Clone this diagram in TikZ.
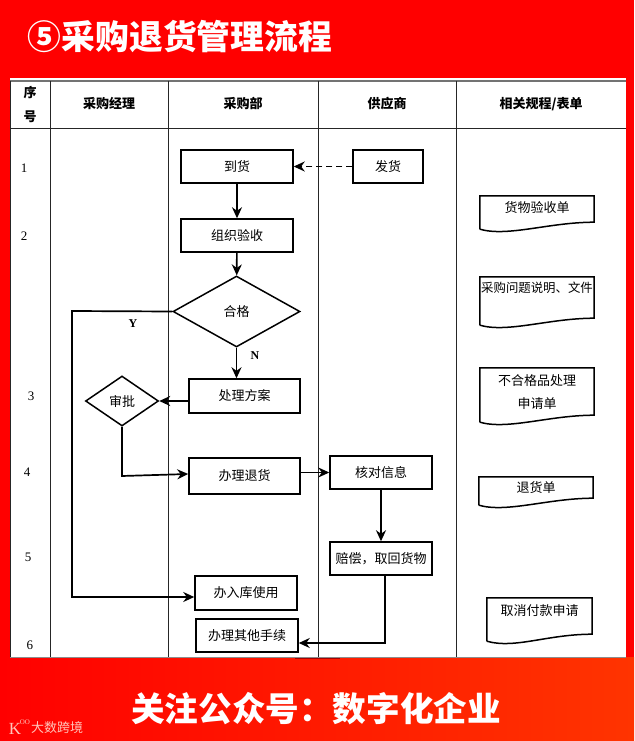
\documentclass[tikz,border=0pt]{standalone}
\usepackage{fontspec}
\usepackage{xcolor}
\setmainfont{Liberation Serif}
\newfontfamily\cjk{Noto Sans CJK SC}
\usetikzlibrary{arrows.meta, calc, shapes.geometric}
\definecolor{banner}{RGB}{255,0,0}
\definecolor{bannerend}{RGB}{255,52,0}
\definecolor{markfaint}{RGB}{255,196,186}
\tikzset{
  flowbox/.style={draw, line width=1.5pt, fill=white, inner sep=0pt, font=\cjk\fontsize{13}{15}\selectfont},
  flowdiamond/.style={draw, line width=1.5pt, fill=white, diamond, aspect=1.8, inner sep=0pt, font=\cjk\fontsize{13}{15}\selectfont},
  docbox/.style={inner sep=0pt, minimum width=114pt},
  doctext/.style={anchor=north, inner sep=0pt, align=center, font=\cjk\fontsize{13}{23}\selectfont},
  headtext/.style={inner sep=0pt, align=center, font=\cjk\bfseries\fontsize{13}{24}\selectfont},
  seqtext/.style={inner sep=0pt, font=\fontsize{13}{15}\selectfont},
  flow/.style={->, line width=1.7pt},
  gridline/.style={line width=0.7pt, black!85},
}
\newcommand{\docoutline}[1]{\draw[line width=1.5pt] (#1.south west) -- (#1.north west) -- (#1.north east) -- ($(#1.south east)+(0,-7)$) .. controls +(-45,0) and +(28,8) .. (#1.south west);}
\begin{document}
\begin{tikzpicture}[x=1pt, y=-1pt, >={Stealth[length=11pt, width=10pt]}]
  \useasboundingbox (0,0) rectangle (634,741);
  % background and sheet
  \fill[banner] (0,0) rectangle (634,741);
  \fill[left color=banner, right color=bannerend] (0,657) rectangle (634,741);
  \fill[white] (10,78) rectangle (626,657);
  \draw[line width=1.2pt, black!55] (10,81) -- (626,81);
  \draw[gridline] (10,128) -- (626,128);
  \draw[line width=1.2pt, black!45] (10,657.5) -- (626,657.5);
  \draw[line width=1.4pt, black!35!red] (295,658.5) -- (340,658.5);
  \foreach \xpos in {10,50,168,318,456} {
    \draw[gridline] (\xpos,81) -- (\xpos,657);
  }
  % title and footer
  \node[inner sep=0pt, text=white, font=\cjk\bfseries\fontsize{33.8}{36}\selectfont] (title) at (180,37) {⑤采购退货管理流程};
  \node[inner sep=0pt, text=white, font=\cjk\bfseries\fontsize{33.6}{36}\selectfont] (footer) at (316,709) {关注公众号\char"FF1A\relax 数字化企业};
  \node[inner sep=0pt, text=markfaint, font=\cjk\fontsize{13}{15}\selectfont] (markname) at (57,728) {大数跨境};
  \node[inner sep=0pt, text=markfaint, font=\fontsize{17}{18}\selectfont] (markk) at (15,729) {K};
  \node[inner sep=0pt, text=markfaint, font=\fontsize{7}{8}\selectfont] (markoo) at (25,722) {OO};
  % header
  \node[headtext] (headseq) at (30,104) {序\\号};
  \node[headtext] (headmgr) at (109,104) {采购经理};
  \node[headtext] (headdept) at (243,104) {采购部};
  \node[headtext] (headsupp) at (387,104) {供应商};
  \node[headtext] (headdocs) at (541,104) {相关规程/表单};
  % sequence numbers
  \node[seqtext] (seqa) at (24,168) {1};
  \node[seqtext] (seqb) at (24,236) {2};
  \node[seqtext] (seqc) at (31,396) {3};
  \node[seqtext] (seqd) at (27,472) {4};
  \node[seqtext] (seqe) at (28,557) {5};
  \node[seqtext] (seqf) at (30,645) {6};
  % flow nodes
  \node[flowbox, minimum width=112pt, minimum height=33pt] (arrive) at (237,166.5) {到货};
  \node[flowbox, minimum width=70pt, minimum height=33pt] (ship) at (388,166.5) {发货};
  \node[flowbox, minimum width=112pt, minimum height=33pt] (inspect) at (237,235.5) {组织验收};
  \node[flowdiamond, minimum width=127pt, minimum height=71pt] (pass) at (236.5,311.5) {合格};
  \node[flowbox, minimum width=111pt, minimum height=34pt] (plan) at (244.5,396) {处理方案};
  \node[flowdiamond, minimum width=73pt, minimum height=50pt] (approve) at (122,401) {审批};
  \node[flowbox, minimum width=111pt, minimum height=36pt] (return) at (244.5,476) {办理退货};
  \node[flowbox, minimum width=102pt, minimum height=33pt] (verify) at (381,472.5) {核对信息};
  \node[flowbox, minimum width=102pt, minimum height=33pt] (refund) at (381,558.5) {赔偿\char"FF0C\relax 取回货物};
  \node[flowbox, minimum width=102pt, minimum height=34pt] (stock) at (246,593) {办入库使用};
  \node[flowbox, minimum width=102pt, minimum height=33pt] (other) at (247,635.5) {办理其他手续};
  % document shapes
  \node[docbox, minimum height=33pt] (doca) at (537,212.5) {};
  \node[docbox, minimum height=48pt] (docb) at (537,301) {};
  \node[docbox, minimum height=54pt] (docc) at (537,395) {};
  \node[docbox, minimum height=28pt] (docd) at (536,491) {};
  \node[docbox, minimum width=105pt, minimum height=43pt] (doce) at (539.5,619.5) {};
  \docoutline{doca}
  \docoutline{docb}
  \docoutline{docc}
  \docoutline{docd}
  \docoutline{doce}
  \node[doctext] (docatext) at ($(doca.north)+(0,5)$) {货物验收单};
  \node[doctext, font=\cjk\fontsize{12.4}{23}\selectfont] (docbtext) at ($(docb.north)+(0,5)$) {采购问题说明、文件};
  \node[doctext] (docctext) at ($(docc.north)+(0,7)$) {不合格品处理\\申请单};
  \node[doctext] (docdtext) at ($(docd.north)+(0,5)$) {退货单};
  \node[doctext] (docetext) at ($(doce.north)+(0,7)$) {取消付款申请};
  % connectors
  \draw[flow] (arrive) -- (inspect);
  \draw[flow, dash pattern=on 6pt off 4pt] (ship) -- (arrive);
  \draw[flow] (inspect) -- (pass);
  \draw[flow] (pass) -- (pass |- plan.north);
  \coordinate (leftrun) at (72,311);
  \coordinate (leftlow) at (72,597);
  \draw[flow] (pass.west) -- (leftrun) -- (leftlow) -- (stock.west |- leftlow);
  \node[inner sep=0pt, font=\bfseries\fontsize{12}{14}\selectfont] (yes) at (133,324) {Y};
  \node[inner sep=0pt, font=\bfseries\fontsize{12}{14}\selectfont] (no) at (255,356) {N};
  \draw[flow] (plan.west |- approve.east) -- (approve.east);
  \coordinate (bendlow) at (122,476);
  \draw[flow] (approve.south) -- (bendlow) -- (return.west |- 0,474);
  \draw[flow] (return.east |- verify.west) -- (verify.west);
  \draw[flow] (verify) -- (refund);
  \coordinate (backstart) at (385,575);
  \coordinate (backbend) at (385,643);
  \draw[flow] (backstart) -- (backbend) -- (other.east |- backbend);
\end{tikzpicture}
\end{document}
